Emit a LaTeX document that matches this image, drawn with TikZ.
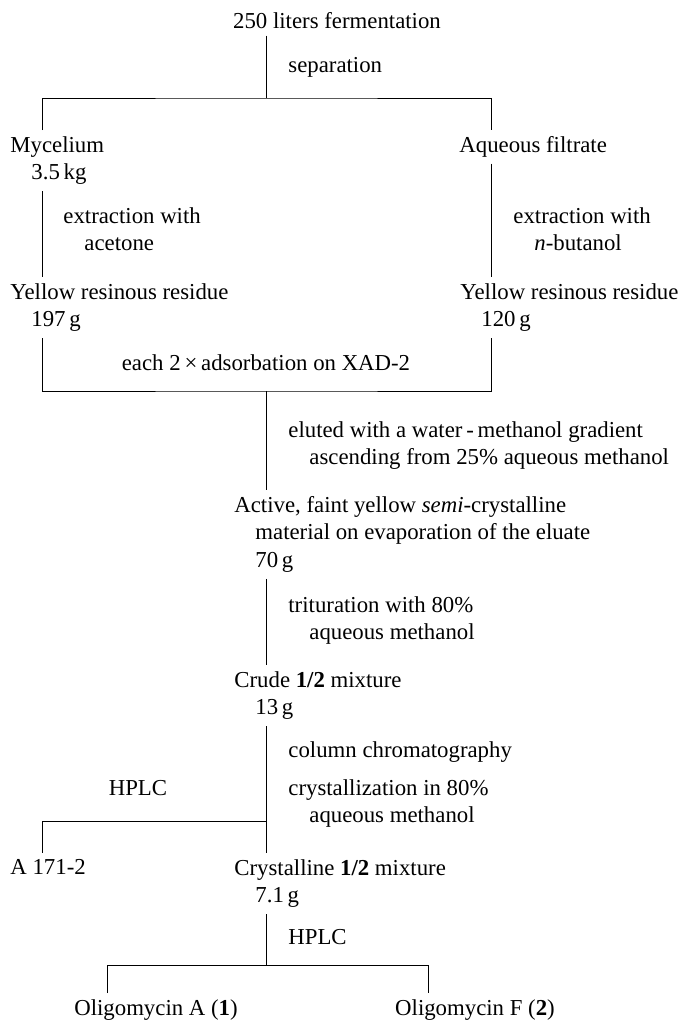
\documentclass[tikz,border=0pt]{standalone}
\usepackage{fontspec}
\setmainfont{Liberation Serif}
\usepackage{tikz}
\newcommand{\flowfont}{\fontsize{11.4pt}{13.75pt}\selectfont}
\newcommand{\indt}{\hspace*{10.5pt}}

\begin{document}
\begin{tikzpicture}[
  x=0.5pt, y=-0.5pt,
  stage/.style={anchor=north west, inner sep=3pt, align=left, font=\flowfont},
  centred/.style={anchor=center, inner sep=3pt, font=\flowfont},
  link/.style={draw=black, line width=0.5pt}
]
\useasboundingbox (0,0) rectangle (677,1024);

\node[centred] (ferm) at (337,21) {250 liters fermentation};
\node[stage] (sepa) at (282,51) {separation};

\node[stage] (myc) at (4,130) {Mycelium\\\indt 3.5\,kg};
\node[stage] (filt) at (453,130) {Aqueous filtrate};
\node[stage] (extrL) at (57,201) {extraction with\\\indt acetone};
\node[stage] (extrR) at (507,201) {extraction with\\\indt \textit{n}-butanol};
\node[stage] (resL) at (4,277) {Yellow resinous residue\\\indt 197\,g};
\node[stage] (resR) at (454,277) {Yellow resinous residue\\\indt 120\,g};
\node[centred] (ads) at (266,363) {each 2\,×\,adsorbation on XAD-2};

\node[stage] (elu) at (282,415) {eluted with a water\,-\,methanol gradient\\\indt ascending from 25\% aqueous methanol};
\node[stage] (act) at (228,490) {Active, faint yellow \textit{semi}-crystalline\\\indt material on evaporation of the eluate\\\indt 70\,g};
\node[stage] (trit) at (282,590) {trituration with 80\%\\\indt aqueous methanol};
\node[stage] (crude) at (228,665) {Crude \textbf{1/2} mixture\\\indt 13\,g};
\node[stage] (colm) at (282,735) {column chromatography};
\node[centred] (hplcA) at (138,788) {HPLC};
\node[stage] (cryst) at (282,773) {crystallization in 80\%\\\indt aqueous methanol};
\node[stage] (a171) at (4,853) {A 171-2};
\node[stage] (cryst2) at (228,853) {Crystalline \textbf{1/2} mixture\\\indt 7.1\,g};
\node[stage] (hplcB) at (282,923) {HPLC};
\node[centred] (oliA) at (156,1010) {Oligomycin A (\textbf{1})};
\node[centred] (oliF) at (475,1010) {Oligomycin F (\textbf{2})};

\coordinate (split) at (266,98);
\coordinate (merge) at (266,391);
\coordinate (side) at (266,821);
\coordinate (fork) at (266,965);
\coordinate (colL) at (42,0);
\coordinate (colR) at (491,0);
\coordinate (colA) at (107,0);
\coordinate (colF) at (428,0);

\draw[link] (ferm.south -| split) -- (split);
\draw[link] (myc.north -| colL) |- (split) -| (filt.north -| colR);
\draw[link] (myc.south -| colL) -- (resL.north -| colL);
\draw[link] (filt.south -| colR) -- (resR.north -| colR);
\draw[link] (resL.south -| colL) |- (merge) -| (resR.south -| colR);
\draw[link] (merge) -- (act.north -| merge);
\draw[link] (act.south -| merge) -- (crude.north -| merge);
\draw[link] (crude.south -| merge) -- (cryst2.north -| merge);
\draw[link] (side) -| (a171.north -| colL);
\draw[link] (cryst2.south -| fork) -- (fork);
\draw[link] (oliA.north -| colA) |- (fork) -| (oliF.north -| colF);

\end{tikzpicture}
\end{document}
